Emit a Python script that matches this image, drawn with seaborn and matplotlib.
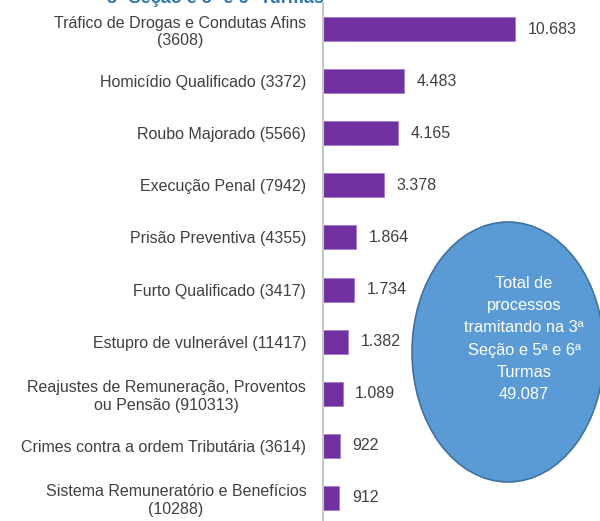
"""Horizontal bar chart: processos tramitando na 3a Secao e 5a e 6a Turmas."""
import matplotlib
matplotlib.use("Agg")
from matplotlib import pyplot as plt
from matplotlib.patches import Ellipse
import seaborn as sns
import pandas as pd

# Data
categories = [
    "Tráfico de Drogas e Condutas Afins\n(3608)",
    "Homicídio Qualificado (3372)",
    "Roubo Majorado (5566)",
    "Execução Penal (7942)",
    "Prisão Preventiva (4355)",
    "Furto Qualificado (3417)",
    "Estupro de vulnerável (11417)",
    "Reajustes de Remuneração, Proventos\nou Pensão (910313)",
    "Crimes contra a ordem Tributária (3614)",
    "Sistema Remuneratório e Benefícios\n(10288)",
]
values = [10683, 4483, 4165, 3378, 1864, 1734, 1382, 1089, 922, 912]
total_label = "Total de\nprocessos\ntramitando na 3ª\nSeção e 5ª e 6ª\nTurmas\n49.087"
title = "3ª Seção e 5ª e 6ª Turmas"

BAR_COLOR = "#7030A0"
TEXT_COLOR = "#404040"

sns.set_theme(style="white")
plt.rcParams["font.family"] = ["Liberation Sans", "DejaVu Sans"]

df = pd.DataFrame({"categoria": categories, "valor": values})

fig = plt.figure(figsize=(6.0, 5.21), dpi=100)
ax = fig.add_axes([323 / 600, -3 / 521, 277 / 600, 1.0])

sns.barplot(
    data=df, x="valor", y="categoria", orient="h",
    color=BAR_COLOR, width=0.46, edgecolor="#A77BC9", linewidth=0.6,
    saturation=1, ax=ax,
)

ax.set_xlim(0, 15414)
ax.set_ylim(len(categories) - 0.5, -0.5)
ax.set_xlabel("")
ax.set_ylabel("")
ax.set_xticks([])
for side in ["top", "right", "bottom"]:
    ax.spines[side].set_visible(False)
ax.spines["left"].set_color("#C8C8C8")
ax.spines["left"].set_linewidth(1.5)

ax.tick_params(axis="y", length=0, pad=12, labelsize=11.5, labelcolor=TEXT_COLOR)
for lbl in ax.get_yticklabels():
    lbl.set_multialignment("center")

# value labels with dot thousands separator
for i, v in enumerate(values):
    ax.text(
        v + 700, i, f"{v:,}".replace(",", "."),
        va="center", ha="left", fontsize=11.5, color=TEXT_COLOR,
    )

# cropped title at the top
fig.text(
    215 / 600, 1.0 - 3 / 521, title, ha="center", va="baseline",
    fontsize=13, fontweight="bold", color="#2E75B6",
)

# total ellipse
ell = Ellipse(
    (508 / 600, 1 - 352 / 521), 192 / 600, 260 / 521,
    transform=fig.transFigure, facecolor="#5B9BD5", edgecolor="#41719C",
    linewidth=1.2, zorder=5,
)
fig.patches.append(ell)
fig.text(
    524 / 600, 1 - 339 / 521, total_label, ha="center", va="center",
    fontsize=11.8, color="white", linespacing=1.6, zorder=6,
)

fig.savefig("out.png", dpi=100)
